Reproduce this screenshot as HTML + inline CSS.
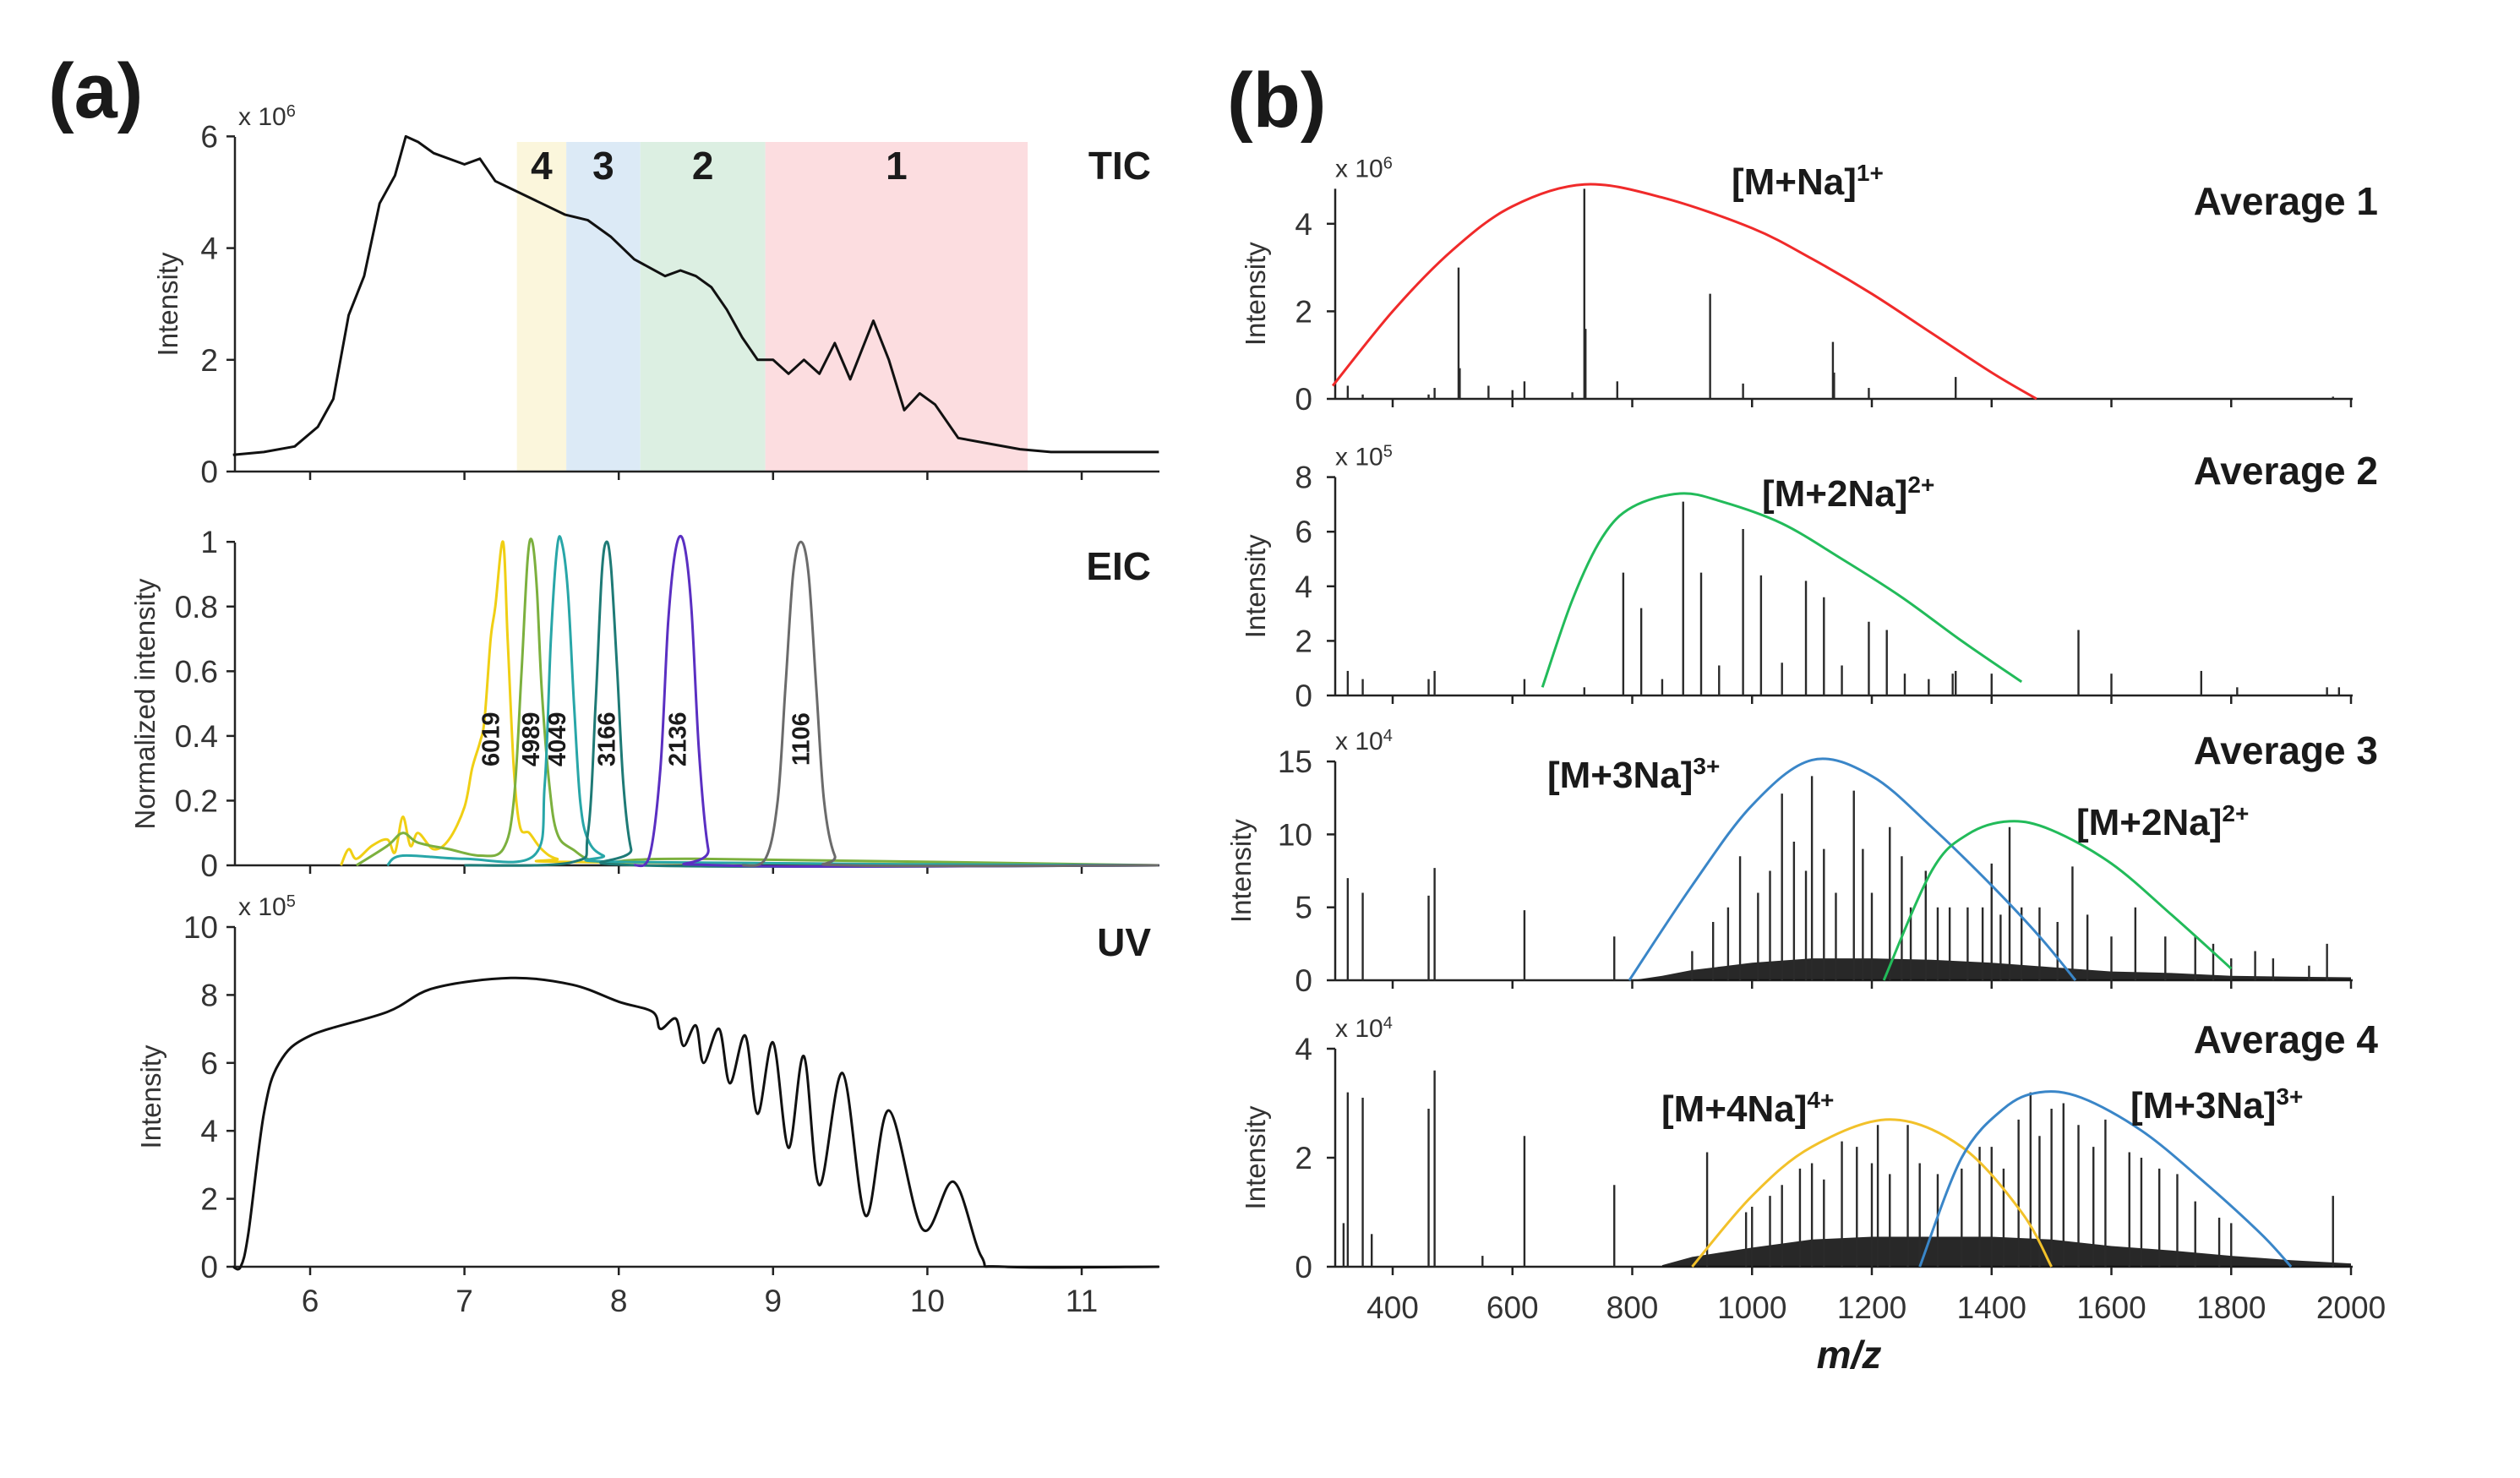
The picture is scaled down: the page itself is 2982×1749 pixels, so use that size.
<!DOCTYPE html>
<html><head><meta charset="utf-8"><style>
html,body{margin:0;padding:0;background:#fff;}
svg{display:block;font-family:"Liberation Sans",sans-serif;}
</style></head><body>
<svg id="fig" width="2982" height="1749" viewBox="0 0 2982 1749" xmlns="http://www.w3.org/2000/svg"></svg>
<script>
// ---------- DATA ----------
const ticT = [5.5,5.7,5.9,6.05,6.15,6.25,6.35,6.45,6.55,6.62,6.7,6.8,7.0,7.1,7.2,7.35,7.5,7.65,7.8,7.95,8.1,8.3,8.4,8.5,8.6,8.7,8.8,8.9,9.0,9.1,9.2,9.3,9.4,9.5,9.65,9.75,9.85,9.95,10.05,10.2,10.4,10.6,10.8,11.5];
const ticV = [0.3,0.35,0.45,0.8,1.3,2.8,3.5,4.8,5.3,6.0,5.9,5.7,5.5,5.6,5.2,5.0,4.8,4.6,4.5,4.2,3.8,3.5,3.6,3.5,3.3,2.9,2.4,2.0,2.0,1.75,2.0,1.75,2.3,1.65,2.7,2.0,1.1,1.4,1.2,0.6,0.5,0.4,0.35,0.35];
const bandStarts = [7.34,7.66,8.14,8.95];
const bandEnds = [7.66,8.14,8.95,10.65];
const bandLabels = ["4","3","2","1"];
const bandColors = ["#fbf6dc","#dceaf6","#dcefe2","#fcdde0"];
const eicT1=[6.2,6.25,6.3,6.4,6.5,6.55,6.6,6.65,6.7,6.8,6.9,7.0,7.05,7.1,7.13,7.17,7.2,7.25,7.28,7.32,7.36,7.42,7.5,7.6,7.8,11.5];
const eicV1=[0,0.05,0.02,0.06,0.08,0.04,0.15,0.06,0.1,0.05,0.08,0.18,0.3,0.38,0.45,0.7,0.8,1.0,0.7,0.3,0.12,0.1,0.05,0.02,0.01,0];
const eicT2=[6.3,6.5,6.6,6.7,6.9,7.1,7.25,7.32,7.37,7.41,7.44,7.47,7.5,7.55,7.6,7.7,7.9,8.5,11.5];
const eicV2=[0,0.06,0.1,0.07,0.05,0.03,0.05,0.2,0.6,0.95,1.0,0.85,0.55,0.25,0.1,0.05,0.01,0.02,0];
const eicT3=[6.5,6.6,7.0,7.45,7.52,7.56,7.6,7.63,7.67,7.71,7.75,7.8,7.9,8.1,11.5];
const eicV3=[0,0.03,0.02,0.03,0.25,0.7,0.98,1.0,0.85,0.5,0.2,0.08,0.03,0.01,0];
const eicT4=[7.0,7.7,7.8,7.85,7.89,7.92,7.95,7.99,8.03,8.08,8.15,11.5];
const eicV4=[0,0.01,0.1,0.5,0.9,1.0,0.92,0.6,0.25,0.05,0,0];
const eicT5=[8.1,8.2,8.27,8.32,8.37,8.42,8.47,8.52,8.58,8.65,11.5];
const eicV5=[0,0.03,0.3,0.75,0.98,1.0,0.8,0.35,0.05,0,0];
const eicT6=[8.8,8.95,9.03,9.08,9.13,9.18,9.23,9.28,9.33,9.4,9.5,11.5];
const eicV6=[0,0.02,0.2,0.55,0.9,1.0,0.9,0.55,0.2,0.03,0,0];
const eicLabels=["6019","4989","4049","3166","2136","1106"];
const eicLabelT=[7.17,7.43,7.6,7.92,8.38,9.18];
const uvT=[5.5,5.55,5.6,5.7,5.8,6.0,6.5,6.8,7.3,7.7,8.0,8.22,8.27,8.37,8.42,8.5,8.55,8.65,8.72,8.82,8.9,9.0,9.1,9.2,9.3,9.45,9.6,9.75,9.97,10.17,10.35,10.5,11.5];
const uvV=[0,0,1,4.5,6,6.8,7.5,8.2,8.5,8.3,7.8,7.5,7.0,7.3,6.5,7.1,6.0,7.0,5.4,6.8,4.5,6.6,3.5,6.2,2.4,5.7,1.5,4.6,1.1,2.5,0.3,0,0];
const xTicksA=[6,7,8,9,10,11];

const p1mz=[325,350,460,470,510,512,560,600,620,700,720,722,775,930,985,1135,1137,1195,1340,1970];
const p1v=[0.3,0.1,0.1,0.25,3.0,0.7,0.3,0.2,0.4,0.15,4.8,1.6,0.4,2.4,0.35,1.3,0.6,0.25,0.5,0.05];
const p1cMz=[300,400,500,600,720,850,1000,1100,1200,1300,1400,1475];
const p1cV=[0.3,2.0,3.4,4.4,4.9,4.6,3.9,3.2,2.4,1.5,0.6,0];
const p2mz=[325,350,460,470,620,720,785,815,850,885,915,945,985,1015,1050,1090,1120,1150,1195,1225,1255,1295,1335,1340,1400,1545,1600,1750,1810,1960,1980];
const p2v=[0.9,0.6,0.6,0.9,0.6,0.3,4.5,3.2,0.6,7.1,4.5,1.1,6.1,4.4,1.2,4.2,3.6,1.1,2.7,2.4,0.8,0.6,0.8,0.9,0.8,2.4,0.8,0.9,0.3,0.3,0.3];
const p2cMz=[650,700,750,800,880,950,1050,1150,1250,1350,1450];
const p2cV=[0.3,3.5,5.8,6.9,7.4,7.1,6.3,5.0,3.6,2.0,0.5];
const p3mz=[325,350,460,470,620,770,900,935,960,980,1010,1030,1050,1070,1090,1100,1120,1140,1170,1185,1200,1230,1250,1265,1290,1310,1330,1360,1385,1400,1415,1430,1450,1480,1510,1535,1560,1600,1640,1690,1740,1770,1800,1840,1870,1930,1960];
const p3v=[7,6,5.8,7.7,4.8,3,2,4,5,8.5,6,7.5,12.8,9.5,7.5,14,9,6,13,9,6,10.5,8.5,5,7.5,5,5,5,5,8,4.5,10.5,5,5,4,7.8,4.5,3,5,3,3,2.5,1.5,2,1.5,1,2.5];
const p3gMz=[800,850,900,1000,1100,1200,1300,1400,1500,1600,1700,1800,1900,2000];
const p3gV=[0,0.3,0.7,1.2,1.5,1.5,1.4,1.2,0.9,0.6,0.5,0.3,0.25,0.2];
const p3bMz=[795,900,1000,1100,1200,1300,1400,1480,1540];
const p3bV=[0,6.5,12,15.1,14,10.5,6.5,3,0];
const p3gcMz=[1220,1300,1360,1430,1500,1600,1700,1800];
const p3gcV=[0,7.5,10,10.9,10.3,8,4.5,0.8];
const p4mz=[318,325,350,365,460,470,550,620,770,925,990,1000,1030,1050,1080,1100,1120,1150,1175,1200,1210,1230,1260,1280,1310,1350,1380,1400,1420,1445,1465,1480,1500,1520,1545,1570,1590,1630,1650,1680,1710,1740,1780,1800,1970];
const p4v=[0.8,3.2,3.1,0.6,2.9,3.6,0.2,2.4,1.5,2.1,1,1.1,1.3,1.5,1.8,1.9,1.6,2.3,2.2,1.9,2.6,1.7,2.6,1.9,1.7,1.8,2.2,2.2,1.8,2.7,3.2,2.4,2.9,3.0,2.6,2.2,2.7,2.1,2.0,1.8,1.7,1.2,0.9,0.8,1.3];
const p4gMz=[850,900,1000,1100,1200,1300,1400,1500,1600,1700,1800,1900,2000];
const p4gV=[0.03,0.18,0.35,0.5,0.55,0.55,0.55,0.5,0.38,0.3,0.2,0.12,0.06];
const p4yMz=[900,1000,1100,1230,1350,1450,1500];
const p4yV=[0,1.3,2.2,2.7,2.2,1.0,0];
const p4bMz=[1280,1350,1420,1480,1550,1650,1750,1850,1900];
const p4bV=[0,2.0,2.9,3.2,3.1,2.5,1.6,0.6,0];
const mzTicks=[400,600,800,1000,1200,1400,1600,1800,2000];

// ---------- HELPERS ----------
const svg=document.getElementById('fig');
const NS='http://www.w3.org/2000/svg';
function mk(tag,attrs,parent){const e=document.createElementNS(NS,tag);for(const k in attrs)e.setAttribute(k,attrs[k]);(parent||svg).appendChild(e);return e;}
function smooth(pts){let d='M'+pts[0][0].toFixed(1)+','+pts[0][1].toFixed(1);
 for(let i=0;i<pts.length-1;i++){const p0=pts[i-1]||pts[i],p1=pts[i],p2=pts[i+1],p3=pts[i+2]||p2;
  const c1=[p1[0]+(p2[0]-p0[0])/6,p1[1]+(p2[1]-p0[1])/6],c2=[p2[0]-(p3[0]-p1[0])/6,p2[1]-(p3[1]-p1[1])/6];
  d+='C'+c1[0].toFixed(1)+','+c1[1].toFixed(1)+' '+c2[0].toFixed(1)+','+c2[1].toFixed(1)+' '+p2[0].toFixed(1)+','+p2[1].toFixed(1);}
 return d;}
function txt(x,y,s,size,opts){const t=mk('text',Object.assign({x:x,y:y,'font-size':size,fill:'#1a1a1a'},opts||{}));t.textContent=s;return t;}

// ---------- PANEL A ----------
const XA=t=>367+(t-6)*182.6;
const YT=v=>558-v*66.1, YE=v=>1024-v*382.8, YU=v=>1499-v*40.2;
const AX0=278, AX1=1372;

let t=txt(57,139,'(a)',92,{'font-weight':'bold'});


for(let i=0;i<bandStarts.length;i++){
 const r=mk('rect',{x:XA(bandStarts[i]),y:168,width:XA(bandEnds[i])-XA(bandStarts[i]),height:558-168,fill:bandColors[i]});
 
 const l=txt((XA(bandStarts[i])+XA(bandEnds[i]))/2,212,bandLabels[i],46,{'font-weight':'bold','text-anchor':'middle'});
 
}

function axesA(y0,yTop,ticks,fmt,Yf,name,title,titleX,mult){
 const g=mk('g',{});
 mk('line',{x1:AX0,y1:y0,x2:AX1,y2:y0,stroke:'#222','stroke-width':2.5},g);
 mk('line',{x1:AX0,y1:y0,x2:AX0,y2:yTop,stroke:'#222','stroke-width':2.5},g);
 ticks.forEach(v=>{mk('line',{x1:AX0-10,y1:Yf(v),x2:AX0,y2:Yf(v),stroke:'#222','stroke-width':2.5},g);
  const l=txt(258,Yf(v)+13,fmt(v),37,{'text-anchor':'end',fill:'#333'});g.appendChild(l);});
 xTicksA.forEach(v=>mk('line',{x1:XA(v),y1:y0,x2:XA(v),y2:y0+10,stroke:'#222','stroke-width':2.5},g));
 const yt=txt(0,0,title,33,{'text-anchor':'middle',fill:'#333',transform:'translate('+titleX+','+((y0+yTop)/2)+') rotate(-90)'});
 
 if(mult){const m=txt(282,yTop-14,'x 10',30,{fill:'#333'});const s=mk('tspan',{dy:-10,'font-size':20},m);s.textContent=mult;
  }
}
axesA(558,162,[0,2,4,6],v=>v,YT,'tic','Intensity',210,'6');
axesA(1024,642,[0,0.2,0.4,0.6,0.8,1],v=>v===0||v===1?String(v):v.toFixed(1),YE,'eic','Normalized intensity',183,null);
axesA(1499,1097,[0,2,4,6,8,10],v=>v,YU,'uv','Intensity',190,'5');
xTicksA.forEach(v=>{const l=txt(XA(v),1552,String(v),37,{'text-anchor':'middle',fill:'#333'});});

let p=mk('polyline',{points:ticT.map((x,i)=>XA(x).toFixed(1)+','+YT(ticV[i]).toFixed(1)).join(' '),fill:'none',stroke:'#111','stroke-width':3,'stroke-linejoin':'round'});

const eicSets=[[eicT1,eicV1,'#f0cf14'],[eicT2,eicV2,'#7cb03e'],[eicT3,eicV3,'#28a6a8'],[eicT4,eicV4,'#1e7a76'],[eicT5,eicV5,'#5a2fc2'],[eicT6,eicV6,'#6b6b6b']];
eicSets.forEach((s,k)=>{const e=mk('path',{d:smooth(s[0].map((x,i)=>[XA(x),YE(s[1][i])])),fill:'none',stroke:s[2],'stroke-width':3});
 });
eicLabels.forEach((s,k)=>{const l=txt(0,0,s,29,{'font-weight':'bold','text-anchor':'middle',transform:'translate('+(XA(eicLabelT[k])+10)+','+YE(0.39)+') rotate(-90)'});
 });
p=mk('path',{d:smooth(uvT.map((x,i)=>[XA(x),YU(uvV[i])])),fill:'none',stroke:'#111','stroke-width':3});

[['TIC',212],['EIC',686],['UV',1131]].forEach(a=>{const l=txt(1362,a[1],a[0],46,{'font-weight':'bold','text-anchor':'end'});});

// ---------- PANEL B ----------
const M=mz=>1648+(mz-400)*0.70875;
const BX0=1580,BX1=2784;
t=txt(1452,150,'(b)',92,{'font-weight':'bold'});


function panelB(n,y0,scale,top,ticks,mult,titleX,titleY){
 const Y=v=>y0-v*scale;
 const g=mk('g',{});
 mk('line',{x1:BX0,y1:y0,x2:BX1,y2:y0,stroke:'#222','stroke-width':2.5},g);
 mk('line',{x1:BX0,y1:y0,x2:BX0,y2:Y(top),stroke:'#222','stroke-width':2.5},g);
 ticks.forEach(v=>{mk('line',{x1:BX0-10,y1:Y(v),x2:BX0,y2:Y(v),stroke:'#222','stroke-width':2.5},g);
  const l=txt(1553,Y(v)+13,String(v),37,{'text-anchor':'end',fill:'#333'});g.appendChild(l);});
 mzTicks.forEach(v=>mk('line',{x1:M(v),y1:y0,x2:M(v),y2:y0+10,stroke:'#222','stroke-width':2.5},g));
 const yt=txt(0,0,'Intensity',33,{'text-anchor':'middle',fill:'#333',transform:'translate('+titleX+','+((y0+Y(top))/2)+') rotate(-90)'});
 
 const m=txt(1580,Y(top)-14,'x 10',30,{fill:'#333'});const s=mk('tspan',{dy:-10,'font-size':20},m);s.textContent=mult;
 
 const at=txt(2814,titleY,'Average '+n,46,{'font-weight':'bold','text-anchor':'end'});
 
 return Y;
}
function grass(Y,mz,v,n){const pts=mz.map((x,i)=>M(x).toFixed(1)+','+Y(v[i]).toFixed(1));
 const g=mk('polygon',{points:M(mz[0])+','+Y(0)+' '+pts.join(' ')+' '+M(mz[mz.length-1])+','+Y(0),fill:'#111',opacity:0.9});
 }
function sticks(Y,mz,v,n){mz.forEach((x,i)=>{const l=mk('line',{x1:M(x),y1:Y(0),x2:M(x),y2:Y(v[i]),stroke:'#2a2a2a','stroke-width':2.4});
 });}
function env(Y,mz,v,col,name){const e=mk('path',{d:smooth(mz.map((x,i)=>[M(x),Y(v[i])])),fill:'none',stroke:col,'stroke-width':3});
 }
function ion(x,y,base,sup,name){const l=txt(x,y,base,44,{'font-weight':'bold'});const s=mk('tspan',{dy:-16,'font-size':28},l);s.textContent=sup;
 }

let Y1=panelB(1,472,51.8,4.8,[0,2,4],'6',1497,254);
sticks(Y1,p1mz,p1v,1);env(Y1,p1cMz,p1cV,'#f02a2a','envelope-m-na-1plus');
ion(2049,230,'[M+Na]','1+','ion-label-m-na-1plus');
let Y2=panelB(2,823,32.3,8,[0,2,4,6,8],'5',1497,573);
sticks(Y2,p2mz,p2v,2);env(Y2,p2cMz,p2cV,'#22bb5a','envelope-m-2na-2plus');
ion(2085,599,'[M+2Na]','2+','ion-label-m-2na-2plus');
let Y3=panelB(3,1160,17.26,15,[0,5,10,15],'4',1480,904);
grass(Y3,p3gMz,p3gV,3);sticks(Y3,p3mz,p3v,3);
env(Y3,p3bMz,p3bV,'#3a86c8','envelope-m-3na-3plus-avg3');env(Y3,p3gcMz,p3gcV,'#22bb5a','envelope-m-2na-2plus-avg3');
ion(1831,932,'[M+3Na]','3+','ion-label-m-3na-3plus-avg3');
ion(2457,988,'[M+2Na]','2+','ion-label-m-2na-2plus-avg3');
let Y4=panelB(4,1499,64.5,4,[0,2,4],'4',1497,1246);
grass(Y4,p4gMz,p4gV,4);sticks(Y4,p4mz,p4v,4);
env(Y4,p4yMz,p4yV,'#f2c12a','envelope-m-4na-4plus');env(Y4,p4bMz,p4bV,'#3a86c8','envelope-m-3na-3plus-avg4');
ion(1966,1327,'[M+4Na]','4+','ion-label-m-4na-4plus');
ion(2521,1323,'[M+3Na]','3+','ion-label-m-3na-3plus-avg4');
mzTicks.forEach(v=>{const l=txt(M(v),1560,String(v),37,{'text-anchor':'middle',fill:'#333'});});
t=txt(2188,1619,'m/z',46,{'font-weight':'bold','font-style':'italic','text-anchor':'middle'});

</script>
</body></html>
